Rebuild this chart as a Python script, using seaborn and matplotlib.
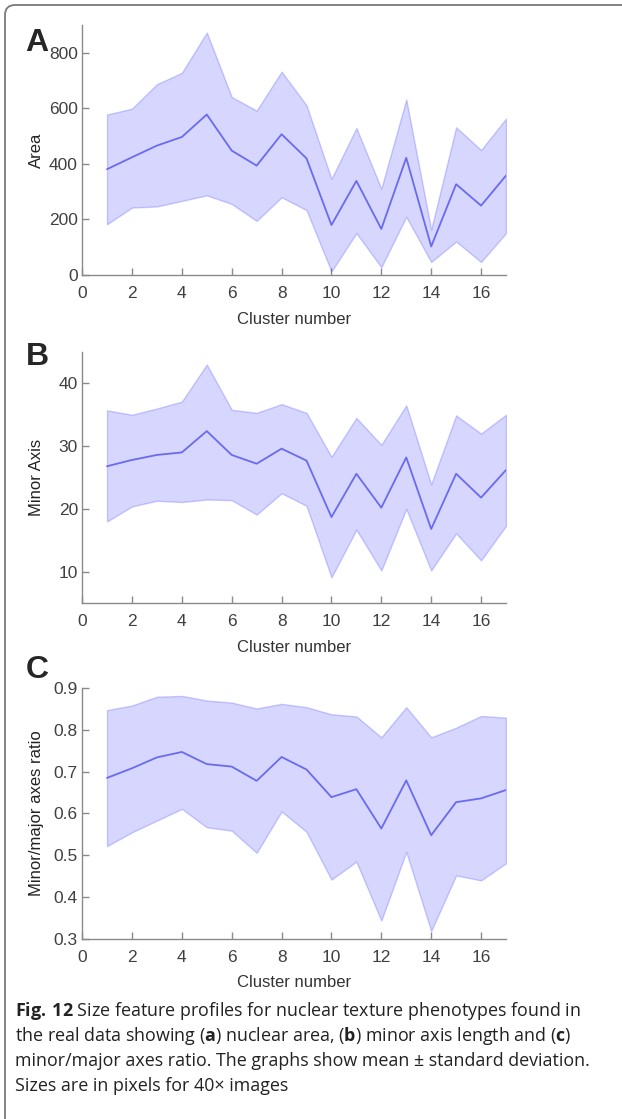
import numpy as np
import pandas as pd
import seaborn as sns
import matplotlib.pyplot as plt
from matplotlib.patches import FancyBboxPatch

# cluster numbers
clusters = list(range(1, 18))

# panel A - nuclear area
area_mean = [381, 424, 466, 497, 578, 448, 394, 507, 420, 180, 339, 166, 422, 103, 327, 250, 358]
area_upper = [578, 599, 687, 728, 873, 641, 592, 732, 611, 346, 529, 311, 632, 163, 532, 450, 563]
area_lower = [183, 243, 247, 267, 287, 256, 195, 280, 234, 13, 151, 28, 210, 47, 121, 47, 151]

# panel B - minor axis
minor_mean = [26.8, 27.8, 28.6, 29.0, 32.4, 28.6, 27.2, 29.6, 27.7, 18.7, 25.6, 20.2, 28.2, 16.8, 25.6, 21.8, 26.2]
minor_upper = [35.7, 35.0, 36.0, 37.1, 43.0, 35.8, 35.3, 36.7, 35.3, 28.3, 34.5, 30.2, 36.5, 23.9, 34.9, 32.0, 35.0]
minor_lower = [18.0, 20.4, 21.3, 21.1, 21.5, 21.4, 19.1, 22.5, 20.5, 9.1, 16.7, 10.2, 20.0, 10.2, 16.1, 11.8, 17.3]

# panel C - minor/major ratio
ratio_mean = [0.685, 0.708, 0.734, 0.747, 0.718, 0.712, 0.678, 0.735, 0.705, 0.639, 0.658, 0.564, 0.679, 0.548, 0.627, 0.636, 0.656]
ratio_upper = [0.847, 0.858, 0.879, 0.881, 0.870, 0.865, 0.851, 0.862, 0.854, 0.837, 0.832, 0.782, 0.854, 0.782, 0.805, 0.833, 0.829]
ratio_lower = [0.522, 0.555, 0.583, 0.611, 0.567, 0.559, 0.506, 0.605, 0.556, 0.442, 0.485, 0.344, 0.508, 0.319, 0.452, 0.440, 0.481]

sns.set_style("ticks")
plt.rcParams['font.family'] = ['Liberation Sans', 'DejaVu Sans']
plt.rcParams['mathtext.fontset'] = 'custom'
plt.rcParams['mathtext.rm'] = 'Open Sans'
plt.rcParams['mathtext.bf'] = 'Open Sans:bold'

fig = plt.figure(figsize=(6.22, 11.19), dpi=100)

# rounded frame around figure
frame = FancyBboxPatch((0.05, -0.5), 7.0, 11.14 + 0.5, boxstyle="round,pad=0,rounding_size=0.1",
                       transform=fig.dpi_scale_trans, facecolor="none", edgecolor="#7a7a7a",
                       linewidth=1.3, zorder=-1)
fig.patches.append(frame)

panels = [
    ("A", "Area", area_mean, area_upper, area_lower, [0.7542, 0.2234], (0, 900), [0, 200, 400, 600, 800], "{:.0f}"),
    ("B", "Minor Axis", minor_mean, minor_upper, minor_lower, [0.4611, 0.2243], (5, 45), [10, 20, 30, 40], "{:.0f}"),
    ("C", "Minor/major axes ratio", ratio_mean, ratio_upper, ratio_lower, [0.1609, 0.2243], (0.3, 0.9),
     [0.3, 0.4, 0.5, 0.6, 0.7, 0.8, 0.9], "{:.1f}"),
]

letter_y = [43, 357, 670]

for (letter, ylab, mean, upper, lower, pos, ylim, yticks, fmt), ly in zip(panels, letter_y):
    ax = fig.add_axes([0.132, pos[0], 0.6815, pos[1]])
    ax.set_facecolor("none")
    df = pd.DataFrame({"cluster": clusters, "mean": mean, "upper": upper, "lower": lower})
    ax.fill_between(df["cluster"], df["lower"], df["upper"], facecolor=(0, 0, 1, 0.16),
                    edgecolor=(0.35, 0.35, 1, 0.3), linewidth=1.0)
    sns.lineplot(data=df, x="cluster", y="mean", ax=ax, color="#6a6af0", linewidth=1.3)
    ax.set_xlim(0, 17)
    ax.set_ylim(*ylim)
    ax.set_xticks(range(0, 17, 2))
    ax.set_yticks(yticks)
    ax.set_yticklabels([fmt.format(v) for v in yticks])
    ax.set_xlabel("Cluster number", fontsize=12, color="#333333", labelpad=7.5)
    ax.set_ylabel(ylab, fontsize=12, color="#222222")
    ax.yaxis.set_label_coords(-0.09, 0.5)
    sns.despine(ax=ax)
    for s in ["left", "bottom"]:
        ax.spines[s].set_color("#8a8a8a")
        ax.spines[s].set_linewidth(1.0)
    ax.tick_params(direction="in", length=5, width=1.0, color="#8a8a8a", labelsize=12.5,
                   labelcolor="#404040")
    ax.tick_params(axis="x", pad=8)
    ax.tick_params(axis="y", pad=3)
    fig.text(37 / 622, 1 - ly / 1119, letter, fontsize=23, fontweight="bold",
             ha="center", va="center")

caption = [
    r"$\mathbf{Fig.\,12}$ Size feature profiles for nuclear texture phenotypes found in",
    r"the real data showing ($\mathbf{a}$) nuclear area, ($\mathbf{b}$) minor axis length and ($\mathbf{c}$)",
    "minor/major axes ratio. The graphs show mean \u00b1 standard deviation.",
    "Sizes are in pixels for 40\u00d7 images",
]
for line, y in zip(caption, [1011, 1036, 1061, 1086]):
    fig.text(15 / 622, 1 - y / 1119, line, fontsize=12.9, family=["Open Sans", "DejaVu Sans"],
             color="#222222", ha="left", va="center")

fig.savefig("out.png", dpi=100)
